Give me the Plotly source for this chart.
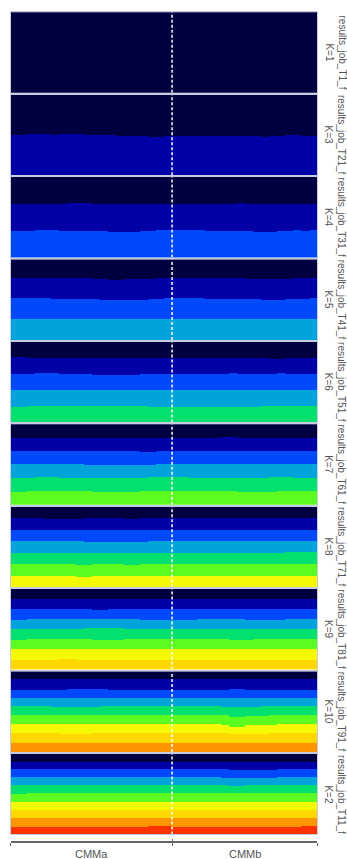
import plotly.graph_objects as go

# ---------------- data ----------------
groups = ["CMMa", "CMMb"]
group_sizes = [20, 18]

palette = ["#000040", "#0000A6", "#0049FB", "#00A4DB", "#03E06E",
           "#5DFC20", "#F6F905", "#FFD701", "#FF9500", "#FF3300"]

panel_files = ["results_job_T1_f", "results_job_T21_f", "results_job_T31_f",
               "results_job_T41_f", "results_job_T51_f", "results_job_T61_f",
               "results_job_T71_f", "results_job_T81_f", "results_job_T91_f",
               "results_job_T11_f"]
panel_k_labels = ["K=1", "K=3", "K=4", "K=5", "K=6", "K=7", "K=8", "K=9", "K=10", "K=2"]

# Boundaries between stacked cluster bands (% measured from the top of each panel),
# one row per boundary, one value per individual (20 CMMa + 18 CMMb).
bounds_p1 = []
bounds_p2 = [
    [50,50,49,49,49,50,49,49,49,50,50,50,50,51,51,51,51,52,52,51, 51,51,51,51,51,51,51,51,51,51,51,52,51,51,50,50,51,51],
]
bounds_p3 = [
    [33,33,33,33,33,33,33,32,32,32,33,33,34,34,33,33,33,33,33,33, 33,33,33,33,33,33,33,33,32,33,33,34,34,33,33,33,33,33],
    [67,67,67,66,66,66,67,67,67,67,67,67,68,68,68,68,67,67,66,66, 66,66,66,66,67,67,67,67,67,67,68,68,68,67,67,66,67,66],
]
bounds_p4 = [
    [24,24,24,24,24,24,24,24,24,24,25,25,26,26,25,25,25,25,24,24, 24,24,24,24,24,24,24,24,24,25,25,25,25,25,25,24,24,24],
    [49,49,49,49,49,50,50,50,50,50,50,51,51,51,51,51,51,50,50,49, 49,49,49,49,50,50,50,50,50,50,50,51,51,51,50,50,50,49],
    [74,74,74,74,74,74,74,74,75,75,75,75,75,75,75,75,75,75,74,74, 74,74,74,74,74,74,74,75,75,75,75,75,75,75,75,74,74,74],
]
bounds_p5 = [
    [19,19,20,20,20,20,20,20,20,20,20,20,20,20,20,20,20,20,20,20, 20,20,20,20,20,20,20,20,20,20,20,20,21,21,20,20,20,20],
    [40,40,40,39,39,39,40,40,40,40,41,41,41,41,41,41,40,40,40,40, 40,40,40,40,40,40,40,39,40,40,40,40,40,39,40,40,40,40],
    [60,60,60,60,60,59,59,59,59,59,59,59,59,59,59,59,60,60,60,60, 60,60,60,60,60,60,60,60,60,60,60,60,59,59,60,60,60,60],
    [81,81,80,80,80,80,80,80,80,79,79,79,80,80,80,80,80,81,81,81, 81,81,81,81,81,81,81,81,81,81,81,80,80,80,80,80,80,80],
]
bounds_p6 = [
    [17,17,17,17,17,17,17,17,17,17,17,17,17,17,17,17,17,17,17,17, 17,17,17,17,17,17,16,16,17,17,17,17,17,17,17,17,17,17],
    [34,34,34,34,33,33,34,34,34,34,34,34,34,34,34,34,35,35,34,34, 34,34,34,34,34,34,33,33,34,34,34,34,34,34,34,34,34,34],
    [50,50,50,50,50,50,50,50,50,51,51,51,51,51,51,51,51,51,50,50, 50,50,50,50,50,50,50,50,50,50,50,50,50,50,50,50,50,50],
    [67,67,67,66,66,66,67,67,67,67,67,67,67,67,67,67,67,66,66,66, 66,66,67,67,67,67,67,67,67,67,67,67,66,66,66,67,67,67],
    [84,84,83,83,83,83,83,83,83,83,84,84,84,84,84,84,83,83,83,83, 83,83,83,83,83,83,83,83,84,84,84,84,84,83,83,83,83,83],
]
bounds_p7 = [
    [14,14,14,14,15,15,15,15,15,14,14,14,14,14,15,15,14,14,14,14, 14,14,14,14,14,14,14,14,14,14,14,14,14,14,14,14,14,14],
    [28,28,28,28,28,28,28,28,29,29,29,29,29,29,29,28,28,28,28,28, 28,28,28,28,28,28,28,28,28,28,28,28,28,28,28,28,28,28],
    [42,42,42,42,42,42,42,42,42,43,43,43,43,43,43,43,43,42,42,42, 42,42,42,42,42,42,42,42,42,42,42,42,42,42,42,42,42,42],
    [57,57,57,57,57,57,57,57,57,57,57,57,57,57,57,57,57,57,57,57, 57,57,57,57,57,57,57,57,57,57,57,57,57,57,56,56,56,56],
    [71,71,71,71,71,71,71,71,72,72,71,71,71,71,72,72,71,71,71,71, 71,71,71,71,71,71,71,71,71,71,71,71,71,71,71,71,71,71],
    [86,86,86,86,86,86,86,86,87,87,86,86,86,86,86,86,86,86,86,86, 86,86,86,86,86,86,86,86,86,86,86,86,86,86,86,86,86,86],
]
bounds_p8 = [
    [12,12,12,12,12,12,12,12,12,12,12,12,12,12,12,12,12,12,12,12, 12,12,12,12,12,12,12,12,12,12,12,12,12,12,12,12,12,12],
    [25,25,25,25,25,25,25,25,25,25,26,26,25,25,25,25,25,25,25,25, 25,25,25,25,25,25,25,25,25,25,25,25,25,25,25,25,25,25],
    [38,38,37,37,37,37,37,37,37,37,37,37,37,37,37,37,38,38,38,38, 38,38,38,37,37,37,37,37,37,38,38,38,38,38,37,37,37,37],
    [50,50,50,50,50,50,50,50,50,49,49,49,49,49,50,50,50,50,50,50, 50,50,50,50,50,50,50,50,50,50,50,50,50,50,50,50,50,50],
    [63,63,62,62,62,62,62,62,62,62,63,63,63,63,62,62,62,62,62,62, 62,62,62,62,62,62,62,63,63,63,62,62,62,62,62,62,62,62],
    [75,75,75,75,75,75,75,75,75,75,75,75,74,74,75,75,75,75,75,75, 75,75,75,75,75,75,75,75,75,75,75,75,75,75,75,75,75,75],
    [88,88,88,88,88,88,87,87,88,88,88,88,88,88,88,88,88,88,88,88, 88,88,88,88,88,88,88,88,88,88,88,88,88,88,88,88,88,88],
]
bounds_p9 = [
    [10,10,10,10,10,10,10,10,10,10,10,10,10,10,10,10,10,10,10,10, 10,10,10,10,10,10,10,10,10,10,10,10,10,10,10,10,10,10],
    [23,23,23,23,23,23,23,22,22,22,22,22,23,23,23,23,23,23,23,23, 23,23,23,23,23,23,23,22,22,23,23,23,23,23,23,23,23,23],
    [33,33,33,33,33,33,33,33,33,33,33,33,33,33,33,33,33,33,33,33, 33,33,33,33,33,33,33,34,34,33,33,33,33,33,33,33,33,33],
    [44,44,44,44,44,45,45,45,45,45,45,44,44,44,44,44,44,44,44,44, 44,44,44,44,44,44,45,45,45,45,45,44,44,44,44,44,44,44],
    [54,54,54,54,54,55,55,55,55,55,55,55,55,54,54,54,54,54,55,55, 55,55,55,55,55,55,55,57,57,56,56,56,55,55,55,55,55,55],
    [66,66,66,66,66,66,66,66,66,66,66,66,66,66,66,66,66,66,66,66, 66,66,66,66,66,66,67,69,69,67,67,67,67,66,66,66,66,66],
    [77,77,77,77,77,77,78,78,78,78,77,77,77,77,77,77,77,77,77,77, 77,77,77,77,77,77,77,78,78,78,78,78,77,77,77,77,77,77],
    [89,89,89,89,89,89,89,89,89,89,89,89,89,89,89,89,89,89,89,89, 89,89,89,89,89,89,89,89,89,89,89,89,89,89,89,89,89,89],
]
bounds_p10 = [
    [10,10,10,10,10,10,10,10,10,10,10,10,10,10,10,10,10,10,10,10, 10,10,10,10,10,10,10,10,10,10,10,10,10,10,10,10,10,10],
    [19,19,19,19,19,19,19,19,19,19,19,19,19,19,19,19,19,19,19,19, 19,19,19,19,19,19,19,20,20,20,20,20,20,19,19,19,19,19],
    [29,29,29,29,29,29,29,29,29,29,29,29,29,29,29,29,29,29,29,29, 29,29,29,29,29,29,30,30,30,30,30,30,30,29,29,29,29,29],
    [39,39,39,39,39,39,39,39,39,39,39,39,39,39,39,39,39,39,39,39, 39,39,39,39,39,39,39,40,40,39,39,39,39,39,39,39,39,39],
    [50,50,49,49,49,49,49,49,49,49,48,48,48,48,49,49,49,49,49,49, 49,49,49,49,49,49,49,49,49,49,49,49,49,49,49,49,49,49],
    [60,60,60,60,60,60,60,60,60,60,59,59,59,59,59,59,59,59,59,59, 59,59,59,59,59,59,60,60,60,60,60,60,60,60,60,60,60,60],
    [70,70,70,70,70,70,70,70,70,70,70,70,70,70,70,70,70,70,70,70, 70,70,70,70,70,70,70,70,70,70,70,70,70,70,70,70,70,70],
    [80,80,80,80,80,80,80,80,80,80,80,80,80,80,80,80,80,80,80,80, 80,80,80,80,80,80,80,80,80,80,80,80,80,80,80,80,80,80],
    [90,90,90,90,90,90,90,90,90,90,90,90,90,90,90,90,90,89,89,89, 90,90,90,90,90,90,90,90,90,90,90,90,90,90,90,90,89,89],
]
panel_bounds = [bounds_p1, bounds_p2, bounds_p3, bounds_p4, bounds_p5,
                bounds_p6, bounds_p7, bounds_p8, bounds_p9, bounds_p10]

# ---------------- figure ----------------
W, H = 347, 859
n_ind = sum(group_sizes)
xs = [i + 0.5 for i in range(n_ind)]
xdom = [10.7 / W, 317.3 / W]
FONT = "Liberation Sans, Arial, sans-serif"
border = "#c8cce2"

fig = go.Figure()
layout = dict(width=W, height=H, margin=dict(l=0, r=0, t=0, b=0),
              paper_bgcolor="white", plot_bgcolor="rgba(0,0,0,0)",
              showlegend=False, barmode="overlay", bargap=0,
              font=dict(family=FONT))
annotations = []

for p, bounds in enumerate(panel_bounds):
    i = p + 1
    top = 12.2 + 82.4 * p
    bot = top + 80.6
    ydom = [1 - bot / H, 1 - top / H]
    xa, ya = f"x{i}", f"y{i}"
    k = len(bounds) + 1
    for c in range(k):
        up = [0] * n_ind if c == 0 else bounds[c - 1]
        lo = [100] * n_ind if c == k - 1 else bounds[c]
        fig.add_trace(go.Bar(
            x=xs, y=[lo[j] - up[j] for j in range(n_ind)],
            base=[100 - lo[j] for j in range(n_ind)],
            width=1, marker=dict(color=palette[c], line=dict(width=0)),
            xaxis=xa, yaxis=ya, hoverinfo="skip"))
    # dashed separator between populations
    sep = group_sizes[0]
    fig.add_trace(go.Scatter(x=[sep, sep], y=[0, 100], mode="lines",
                             line=dict(color="white", width=1.5, dash="3px,2px"),
                             xaxis=xa, yaxis=ya, hoverinfo="skip"))
    axstyle = dict(showgrid=False, zeroline=False, showticklabels=False, ticks="",
                   showline=True, mirror=True, linecolor=border, linewidth=1)
    layout[f"xaxis{i}"] = dict(domain=xdom, range=[0, n_ind], anchor=ya, **axstyle)
    layout[f"yaxis{i}"] = dict(domain=ydom, range=[0, 100], anchor=xa, **axstyle)
    annotations.append(dict(
        text=f"{panel_files[p]}<br>{panel_k_labels[p]}", textangle=90,
        x=335 / W, y=1 - (top + bot) / 2 / H, xref="paper", yref="paper",
        xanchor="center", yanchor="middle", showarrow=False,
        font=dict(size=10, color="#555555", family=FONT)))

# bottom population axis (own tiny, invisible y axis so no panel is covered)
pos = 1 - 842.3 / H
layout["yaxis13"] = dict(domain=[0, 0.004], range=[0, 1], visible=False, anchor="x11")
bounds_x = [0, group_sizes[0], n_ind]
for name, tdir in (("xaxis11", "outside"), ("xaxis12", "inside")):
    layout[name] = dict(domain=xdom, range=[0, n_ind], anchor="free", position=pos,
                        showgrid=False, zeroline=False, showline=(tdir == "outside"),
                        linecolor="#666666", linewidth=1.5,
                        tickmode="array", tickvals=bounds_x, ticktext=["", "", ""],
                        ticks=tdir, ticklen=3, tickwidth=1.2, tickcolor="#666666")
    fig.add_trace(go.Scatter(x=[0, n_ind], y=[0, 0], mode="markers",
                             marker=dict(opacity=0), xaxis=name.replace("axis", ""),
                             yaxis="y13", hoverinfo="skip"))

start = 0
for g, size in zip(groups, group_sizes):
    annotations.append(dict(text=g, x=start + size / 2, xref="x11", y=1 - 854 / H,
                            yref="paper", xanchor="center", yanchor="middle",
                            showarrow=False, font=dict(size=11, color="#555555", family=FONT)))
    start += size

layout["annotations"] = annotations
fig.update_layout(**layout)
fig.write_html("out.html", config={"displayModeBar": False})
